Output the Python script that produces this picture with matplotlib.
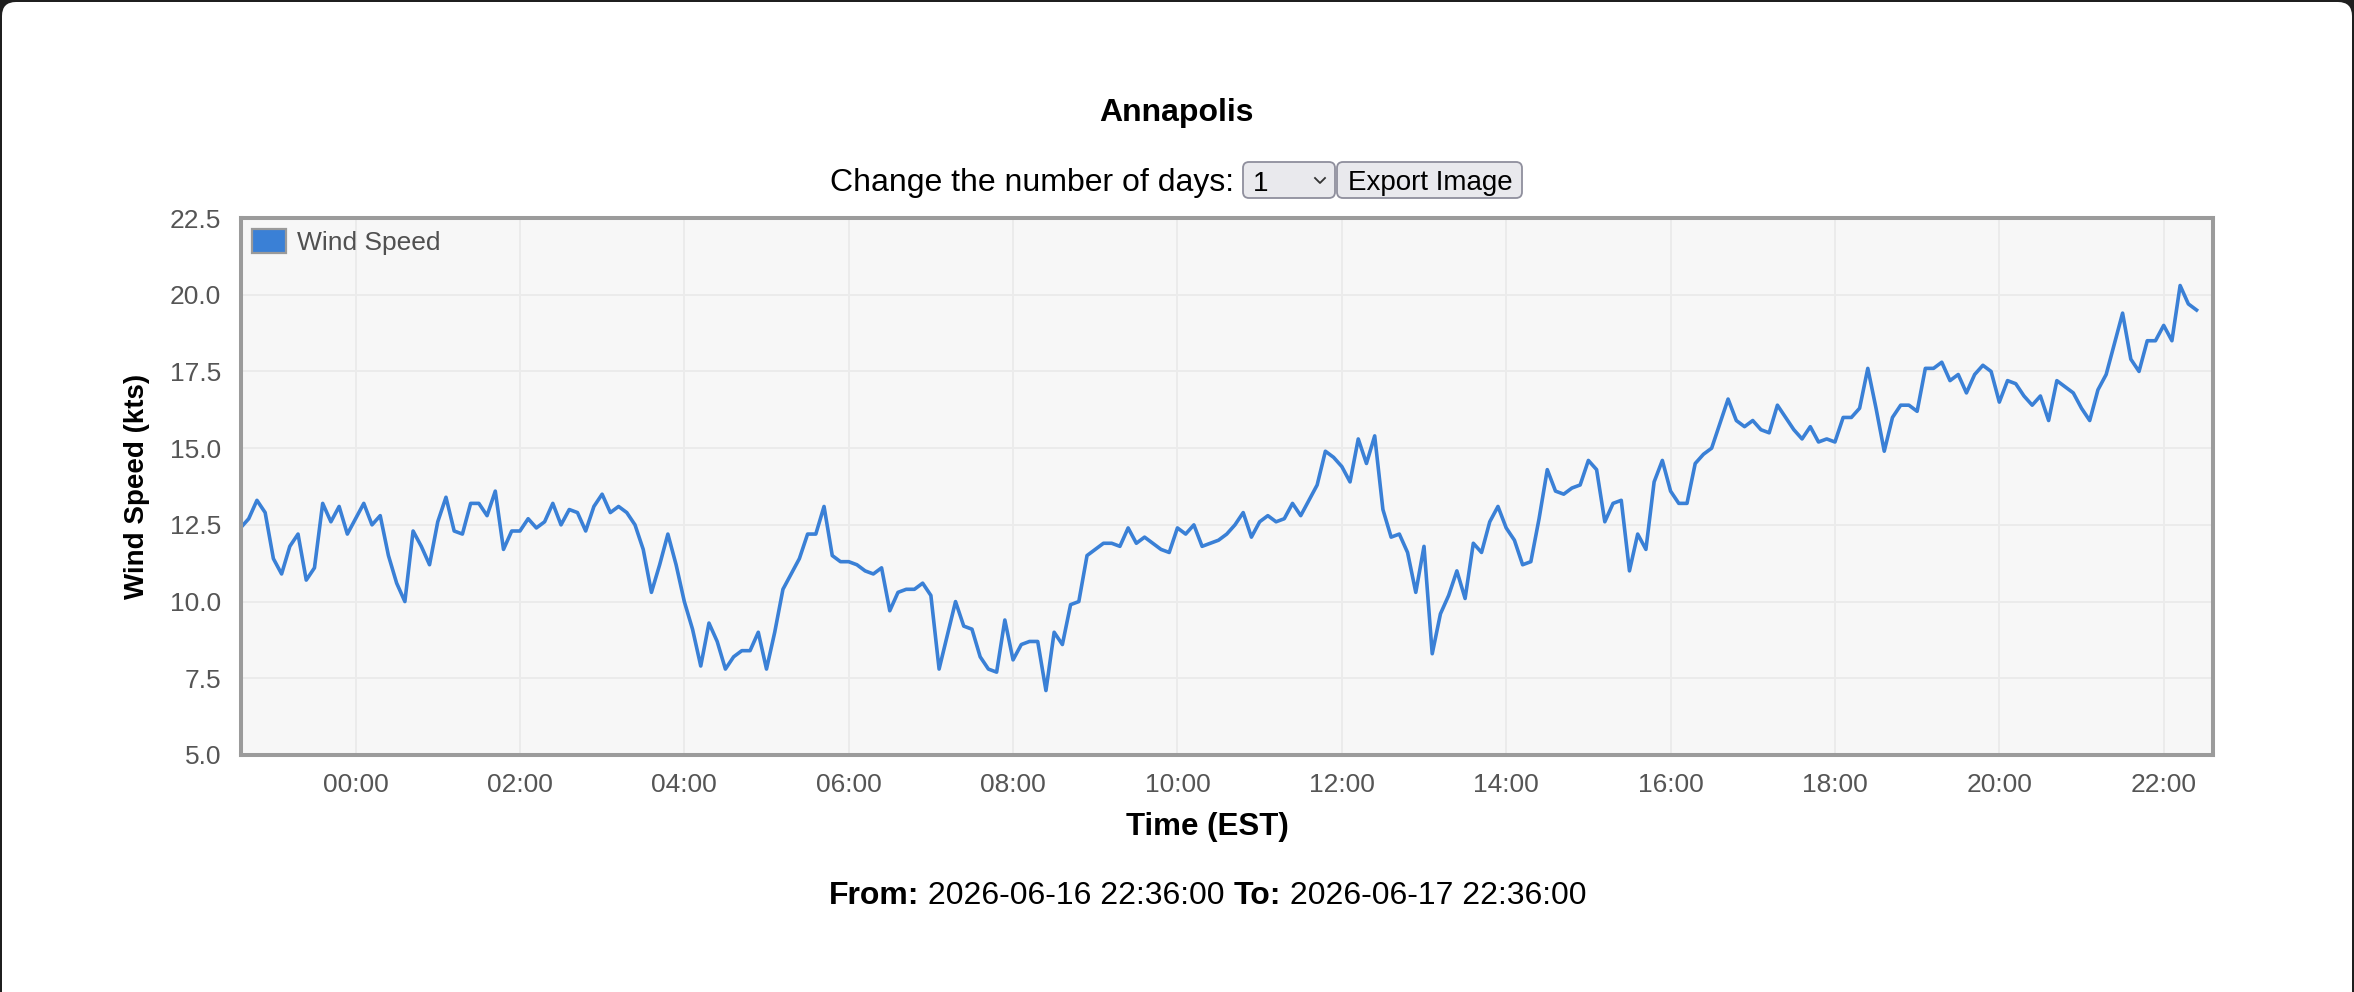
import numpy as np
import pandas as pd
import matplotlib
matplotlib.use('Agg')
import matplotlib.pyplot as plt
import matplotlib.dates as mdates
from matplotlib.patches import FancyBboxPatch, Patch
from matplotlib.lines import Line2D

W, H = 2354, 992

station = 'Annapolis'
start_time = '2026-06-16 22:36:00'
end_time = '2026-06-17 22:36:00'
sample_step = '6min'

# wind speed in knots, one reading every 6 minutes from the start time
wind_kts = [
    12.4, 12.7, 13.3, 12.9, 11.4, 10.9, 11.8, 12.2, 10.7, 11.1,
    13.2, 12.6, 13.1, 12.2, 12.7, 13.2, 12.5, 12.8, 11.5, 10.6,
    10.0, 12.3, 11.8, 11.2, 12.6, 13.4, 12.3, 12.2, 13.2, 13.2,
    12.8, 13.6, 11.7, 12.3, 12.3, 12.7, 12.4, 12.6, 13.2, 12.5,
    13.0, 12.9, 12.3, 13.1, 13.5, 12.9, 13.1, 12.9, 12.5, 11.7,
    10.3, 11.2, 12.2, 11.2, 10.0, 9.1, 7.9, 9.3, 8.7, 7.8,
    8.2, 8.4, 8.4, 9.0, 7.8, 9.0, 10.4, 10.9, 11.4, 12.2,
    12.2, 13.1, 11.5, 11.3, 11.3, 11.2, 11.0, 10.9, 11.1, 9.7,
    10.3, 10.4, 10.4, 10.6, 10.2, 7.8, 8.9, 10.0, 9.2, 9.1,
    8.2, 7.8, 7.7, 9.4, 8.1, 8.6, 8.7, 8.7, 7.1, 9.0,
    8.6, 9.9, 10.0, 11.5, 11.7, 11.9, 11.9, 11.8, 12.4, 11.9,
    12.1, 11.9, 11.7, 11.6, 12.4, 12.2, 12.5, 11.8, 11.9, 12.0,
    12.2, 12.5, 12.9, 12.1, 12.6, 12.8, 12.6, 12.7, 13.2, 12.8,
    13.3, 13.8, 14.9, 14.7, 14.4, 13.9, 15.3, 14.5, 15.4, 13.0,
    12.1, 12.2, 11.6, 10.3, 11.8, 8.3, 9.6, 10.2, 11.0, 10.1,
    11.9, 11.6, 12.6, 13.1, 12.4, 12.0, 11.2, 11.3, 12.7, 14.3,
    13.6, 13.5, 13.7, 13.8, 14.6, 14.3, 12.6, 13.2, 13.3, 11.0,
    12.2, 11.7, 13.9, 14.6, 13.6, 13.2, 13.2, 14.5, 14.8, 15.0,
    15.8, 16.6, 15.9, 15.7, 15.9, 15.6, 15.5, 16.4, 16.0, 15.6,
    15.3, 15.7, 15.2, 15.3, 15.2, 16.0, 16.0, 16.3, 17.6, 16.3,
    14.9, 16.0, 16.4, 16.4, 16.2, 17.6, 17.6, 17.8, 17.2, 17.4,
    16.8, 17.4, 17.7, 17.5, 16.5, 17.2, 17.1, 16.7, 16.4, 16.7,
    15.9, 17.2, 17.0, 16.8, 16.3, 15.9, 16.9, 17.4, 18.4, 19.4,
    17.9, 17.5, 18.5, 18.5, 19.0, 18.5, 20.3, 19.7, 19.5,
]
y_ticks = [5.0, 7.5, 10.0, 12.5, 15.0, 17.5, 20.0, 22.5]

times = pd.date_range(start_time, periods=len(wind_kts), freq=sample_step)

plt.rcParams['font.family'] = ['Liberation Sans', 'DejaVu Sans']


def fx(x):
    return x / W


def fy(y):
    return 1 - y / H


fig = plt.figure(figsize=(W / 100, H / 100), dpi=100, facecolor='#1f1f1f')

# white window with rounded corners
window = FancyBboxPatch((2, -40), W - 4, H - 2 + 40,
                        boxstyle='round,pad=0,rounding_size=14',
                        transform=None, fc='white', ec='none', zorder=0)
fig.add_artist(window)

# plot area
ax = fig.add_axes([fx(240.5), fy(755), (2213 - 240.5) / W, (755 - 218) / H])
ax.set_facecolor('#f7f7f7')
ax.plot(times, wind_kts, color='#3a80d6', lw=2.6, solid_joinstyle='round')

ax.set_xlim(pd.Timestamp(start_time), pd.Timestamp(end_time))
ax.set_ylim(y_ticks[0], y_ticks[-1])
ax.set_yticks(y_ticks)
ax.yaxis.set_major_formatter(matplotlib.ticker.FormatStrFormatter('%.1f'))
ax.xaxis.set_major_locator(mdates.HourLocator(byhour=range(0, 24, 2)))
ax.xaxis.set_major_formatter(mdates.DateFormatter('%H:%M'))

ax.set_axisbelow(True)
ax.grid(color='#ebebeb', lw=1.4)
for sp in ax.spines.values():
    sp.set_color('#9b9b9b')
    sp.set_linewidth(2.9)

ax.tick_params(length=0, labelsize=19, colors='#555555')
ax.tick_params(axis='x', pad=13)
ax.tick_params(axis='y', pad=14)

# axis titles
ax.set_ylabel('Wind Speed (kts)', fontsize=20, fontweight='bold', color='black')
ax.yaxis.label.set_va('center')
ax.yaxis.set_label_coords((137 - 240.5) / 1972.5, 0.5)
ax.set_xlabel('Time (EST)', fontsize=22.5, fontweight='bold', color='black')
ax.xaxis.label.set_va('center')
ax.xaxis.set_label_coords((1207 - 240.5) / 1972.5, (755 - 827) / 537)

# legend
handle = Patch(facecolor='#3a80d6', edgecolor='#9a9a9a', linewidth=1.6, label='Wind Speed')
ax.legend(handles=[handle], loc='upper left',
          bbox_to_anchor=((252 - 240.5) / 1972.5, 1 - (229 - 218) / 537),
          borderaxespad=0, borderpad=0, frameon=False,
          handlelength=1.29, handleheight=1.0, handletextpad=0.42,
          fontsize=19, labelcolor='#505050')

# header
fig.text(fx(1176), fy(121), station, ha='center', va='baseline',
         fontsize=23, fontweight='bold', color='black')
fig.text(fx(830), fy(191), 'Change the number of days:', ha='left', va='baseline',
         fontsize=23, color='black')

for x0, x1 in [(1243, 1335), (1337, 1522)]:
    box = FancyBboxPatch((x0, H - 198), x1 - x0, 36,
                         boxstyle='round,pad=0,rounding_size=6',
                         transform=None, fc='#e9e9ed', ec='#8f8f9d', lw=1.3)
    fig.add_artist(box)

fig.text(fx(1253), fy(191), '1', ha='left', va='baseline', fontsize=20, color='black')
fig.add_artist(Line2D([1315, 1320, 1325], [H - 178, H - 183, H - 178],
                      transform=None, color='#333333', lw=1.3))
fig.text(fx(1430), fy(190), 'Export Image', ha='center', va='baseline',
         fontsize=20, color='black')

# footer: From ... To ...
renderer = fig.canvas.get_renderer()
pieces = [('From:', 'bold'), (' ' + start_time + ' ', 'normal'),
          ('To:', 'bold'), (' ' + end_time, 'normal')]
x = 829
for txt, weight in pieces:
    t = fig.text(fx(x), fy(904), txt, ha='left', va='baseline',
                 fontsize=23, fontweight=weight, color='black')
    bb = t.get_window_extent(renderer)
    x = bb.x1

fig.savefig('out.png', dpi=100, facecolor=fig.get_facecolor())
